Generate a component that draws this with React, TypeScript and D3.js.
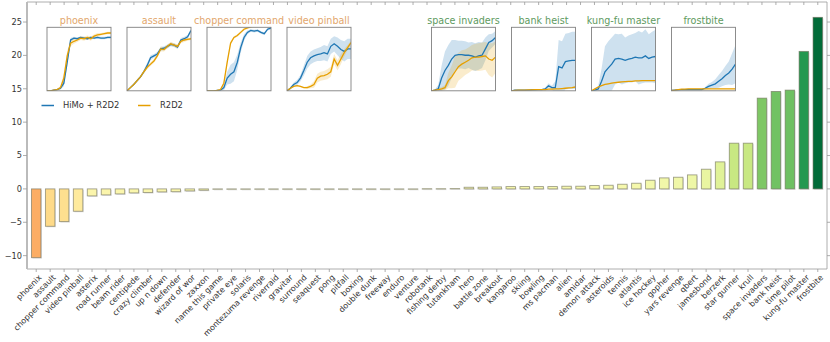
import React from 'react';
import * as d3 from 'd3';

// games sorted by score change (HiMo + R2D2 vs R2D2)
const games = [
  'phoenix', 'assault', 'chopper command', 'video pinball', 'asterix', 'road runner', 'beam rider',
  'centipede', 'crazy climber', 'up n down', 'defender', 'wizard of wor', 'zaxxon', 'name this game',
  'private eye', 'solaris', 'montezuma revenge', 'riverraid', 'gravitar', 'surround', 'seaquest',
  'pong', 'pitfall', 'boxing', 'double dunk', 'freeway', 'enduro', 'venture', 'robotank',
  'fishing derby', 'tutankham', 'hero', 'battle zone', 'breakout', 'kangaroo', 'skiing', 'bowling',
  'ms pacman', 'alien', 'amidar', 'demon attack', 'asteroids', 'tennis', 'atlantis', 'ice hockey',
  'gopher', 'yars revenge', 'qbert', 'jamesbond', 'berzerk', 'star gunner', 'krull',
  'space invaders', 'bank heist', 'time pilot', 'kung-fu master', 'frostbite',
];
const gains = [
  -10.3, -5.6, -4.9, -3.35, -1.05, -0.9, -0.75,
  -0.6, -0.55, -0.45, -0.42, -0.3, -0.2, -0.06,
  -0.04, 0, 0, 0, 0, 0, 0,
  0, 0, 0, 0, 0, 0, 0, 0.03,
  0.03, 0.05, 0.25, 0.25, 0.3, 0.35, 0.35, 0.35,
  0.35, 0.4, 0.4, 0.5, 0.55, 0.7, 0.85, 1.3,
  1.65, 1.75, 2.1, 2.95, 4.05, 6.85, 6.85,
  13.6, 14.6, 14.8, 20.6, 25.7,
];
const yTicks = [-10, -5, 0, 5, 10, 15, 20, 25];

// learning curves for the insets, normalised to the inset height (0 = bottom, 1 = top)
const phoenixHimo = [0, 0, 0.01, 0.02, 0.04, 0.12, 0.45, 0.8, 0.83, 0.82, 0.84, 0.83, 0.82, 0.84, 0.83, 0.84, 0.83, 0.83, 0.84, 0.84];
const phoenixHimoSd = [0, 0, 0.005, 0.01, 0.02, 0.05, 0.06, 0.03, 0.02, 0.02, 0.02, 0.02, 0.02, 0.02, 0.02, 0.02, 0.02, 0.02, 0.02, 0.02];
const phoenixR2d2 = [0, 0, 0.01, 0.02, 0.05, 0.2, 0.55, 0.75, 0.78, 0.8, 0.83, 0.82, 0.84, 0.82, 0.86, 0.88, 0.89, 0.9, 0.91, 0.91];
const phoenixR2d2Sd = [0, 0, 0.005, 0.01, 0.03, 0.08, 0.08, 0.05, 0.04, 0.03, 0.03, 0.03, 0.03, 0.03, 0.03, 0.03, 0.02, 0.02, 0.02, 0.02];

const assaultHimo = [0, 0.05, 0.1, 0.16, 0.22, 0.3, 0.4, 0.52, 0.55, 0.58, 0.66, 0.67, 0.7, 0.73, 0.72, 0.69, 0.8, 0.82, 0.85, 0.95];
const assaultHimoSd = [0, 0.01, 0.01, 0.02, 0.02, 0.03, 0.04, 0.04, 0.03, 0.03, 0.03, 0.03, 0.03, 0.03, 0.03, 0.03, 0.03, 0.03, 0.03, 0.03];
const assaultR2d2 = [0, 0.05, 0.1, 0.16, 0.22, 0.3, 0.37, 0.42, 0.47, 0.55, 0.66, 0.65, 0.7, 0.74, 0.72, 0.7, 0.78, 0.8, 0.81, 0.82];
const assaultR2d2Sd = [0, 0.01, 0.01, 0.02, 0.02, 0.02, 0.03, 0.03, 0.03, 0.03, 0.04, 0.03, 0.03, 0.03, 0.03, 0.03, 0.03, 0.03, 0.02, 0.02];

const chopperHimo = [0, 0, 0, 0.005, 0.01, 0.05, 0.2, 0.26, 0.3, 0.45, 0.68, 0.84, 0.92, 0.95, 0.94, 0.95, 0.92, 0.9, 0.97, 0.99];
const chopperHimoSd = [0, 0, 0, 0.005, 0.01, 0.04, 0.1, 0.15, 0.15, 0.12, 0.08, 0.05, 0.03, 0.02, 0.02, 0.02, 0.02, 0.02, 0.02, 0.02];
const chopperR2d2 = [0, 0, 0, 0.005, 0.02, 0.12, 0.45, 0.75, 0.84, 0.87, 0.92, 0.97, 0.99, 1.01, 1.02, 1.02, 1.03, 1.03, 1.03, 1.03];
const chopperR2d2Sd = [0, 0, 0, 0.005, 0.01, 0.03, 0.04, 0.03, 0.02, 0.02, 0.02, 0.02, 0.02, 0.02, 0.02, 0.02, 0.02, 0.02, 0.02, 0.02];

const pinballHimo = [0, 0.04, 0.1, 0.13, 0.2, 0.32, 0.45, 0.52, 0.55, 0.57, 0.58, 0.6, 0.58, 0.7, 0.74, 0.7, 0.65, 0.62, 0.66, 0.66];
const pinballHimoSd = [0, 0.02, 0.03, 0.04, 0.05, 0.08, 0.1, 0.1, 0.1, 0.1, 0.11, 0.12, 0.12, 0.12, 0.12, 0.14, 0.15, 0.16, 0.16, 0.16];
const pinballR2d2 = [0, 0.04, 0.07, 0.08, 0.07, 0.05, 0.05, 0.07, 0.1, 0.2, 0.23, 0.24, 0.26, 0.3, 0.5, 0.4, 0.5, 0.6, 0.68, 0.76];
const pinballR2d2Sd = [0, 0.01, 0.01, 0.01, 0.01, 0.01, 0.02, 0.03, 0.05, 0.07, 0.07, 0.07, 0.08, 0.08, 0.08, 0.08, 0.08, 0.06, 0.04, 0.03];

const invadersHimo = [0, 0.01, 0.03, 0.2, 0.32, 0.4, 0.5, 0.56, 0.57, 0.57, 0.56, 0.56, 0.55, 0.53, 0.55, 0.56, 0.66, 0.76, 0.79, 0.84];
const invadersHimoSd = [0, 0.01, 0.06, 0.2, 0.3, 0.32, 0.3, 0.24, 0.22, 0.22, 0.22, 0.2, 0.22, 0.22, 0.22, 0.2, 0.18, 0.13, 0.11, 0.1];
const invadersR2d2 = [0, 0.01, 0.02, 0.03, 0.05, 0.16, 0.22, 0.3, 0.38, 0.42, 0.45, 0.48, 0.52, 0.53, 0.53, 0.54, 0.55, 0.5, 0.48, 0.53];
const invadersR2d2Sd = [0, 0.01, 0.02, 0.03, 0.04, 0.12, 0.18, 0.25, 0.22, 0.22, 0.2, 0.2, 0.2, 0.21, 0.22, 0.22, 0.22, 0.25, 0.27, 0.25];

const heistHimo = [0, 0.01, 0.01, 0.01, 0.01, 0.01, 0.015, 0.015, 0.02, 0.02, 0.03, 0.08, 0.05, 0.05, 0.38, 0.36, 0.46, 0.47, 0.48, 0.48];
const heistHimoSd = [0, 0, 0, 0, 0, 0, 0.005, 0.005, 0.01, 0.01, 0.02, 0.04, 0.03, 0.1, 0.42, 0.42, 0.44, 0.44, 0.45, 0.45];
const heistR2d2 = [0, 0.005, 0.01, 0.01, 0.012, 0.015, 0.015, 0.02, 0.02, 0.02, 0.02, 0.025, 0.025, 0.03, 0.03, 0.035, 0.04, 0.045, 0.05, 0.06];
const heistR2d2Sd = [0, 0.005, 0.005, 0.005, 0.005, 0.005, 0.005, 0.005, 0.005, 0.005, 0.005, 0.005, 0.005, 0.005, 0.005, 0.008, 0.01, 0.01, 0.01, 0.01];

const kungfuHimo = [0, 0.01, 0.03, 0.15, 0.3, 0.36, 0.42, 0.5, 0.51, 0.5, 0.48, 0.5, 0.51, 0.53, 0.52, 0.52, 0.55, 0.51, 0.53, 0.54];
const kungfuHimoSd = [0, 0.01, 0.05, 0.2, 0.4, 0.42, 0.42, 0.4, 0.38, 0.4, 0.36, 0.37, 0.38, 0.38, 0.42, 0.4, 0.42, 0.38, 0.4, 0.42];
const kungfuR2d2 = [0, 0.03, 0.06, 0.08, 0.1, 0.11, 0.12, 0.13, 0.135, 0.14, 0.145, 0.15, 0.15, 0.155, 0.155, 0.16, 0.16, 0.16, 0.16, 0.16];
const kungfuR2d2Sd = [0, 0.005, 0.005, 0.005, 0.005, 0.005, 0.005, 0.005, 0.005, 0.005, 0.005, 0.005, 0.005, 0.005, 0.005, 0.005, 0.005, 0.005, 0.005, 0.005];

const frostbiteHimo = [0.005, 0.01, 0.015, 0.02, 0.02, 0.02, 0.02, 0.02, 0.02, 0.02, 0.04, 0.07, 0.09, 0.11, 0.15, 0.19, 0.24, 0.28, 0.34, 0.42];
const frostbiteHimoSd = [0, 0, 0, 0, 0, 0, 0, 0, 0, 0.005, 0.02, 0.04, 0.05, 0.07, 0.1, 0.12, 0.15, 0.18, 0.25, 0.3];
const frostbiteR2d2 = [0.005, 0.01, 0.02, 0.025, 0.025, 0.03, 0.03, 0.03, 0.03, 0.03, 0.03, 0.03, 0.03, 0.03, 0.03, 0.03, 0.03, 0.03, 0.03, 0.03];
const frostbiteR2d2Sd = [0, 0.005, 0.005, 0.005, 0.005, 0.005, 0.005, 0.005, 0.005, 0.005, 0.005, 0.005, 0.005, 0.005, 0.005, 0.005, 0.005, 0.005, 0.005, 0.005];

const insets = [
  { name: 'phoenix', himo: phoenixHimo, himoSd: phoenixHimoSd, r2d2: phoenixR2d2, r2d2Sd: phoenixR2d2Sd, left: 47 },
  { name: 'assault', himo: assaultHimo, himoSd: assaultHimoSd, r2d2: assaultR2d2, r2d2Sd: assaultR2d2Sd, left: 127 },
  { name: 'chopper command', himo: chopperHimo, himoSd: chopperHimoSd, r2d2: chopperR2d2, r2d2Sd: chopperR2d2Sd, left: 207 },
  { name: 'video pinball', himo: pinballHimo, himoSd: pinballHimoSd, r2d2: pinballR2d2, r2d2Sd: pinballR2d2Sd, left: 287 },
  { name: 'space invaders', himo: invadersHimo, himoSd: invadersHimoSd, r2d2: invadersR2d2, r2d2Sd: invadersR2d2Sd, left: 431.5 },
  { name: 'bank heist', himo: heistHimo, himoSd: heistHimoSd, r2d2: heistR2d2, r2d2Sd: heistR2d2Sd, left: 511.5 },
  { name: 'kung-fu master', himo: kungfuHimo, himoSd: kungfuHimoSd, r2d2: kungfuR2d2, r2d2Sd: kungfuR2d2Sd, left: 591.5 },
  { name: 'frostbite', himo: frostbiteHimo, himoSd: frostbiteHimoSd, r2d2: frostbiteR2d2, r2d2Sd: frostbiteR2d2Sd, left: 671.5 },
];

const BLUE = '#1f77b4';
const ORANGE = '#e69f00';
const FONT = 'DejaVu Sans, sans-serif';

const W = 830;
const H = 342;
const plot = { left: 27, right: 827, top: 2, bottom: 269 };
const inset = { top: 27.3, w: 64, h: 63.5 };

const Inset = ({ d, idx }: { d: typeof insets[number]; idx: number }) => {
  const ix = d3.scaleLinear().domain([0, d.himo.length - 1]).range([0, inset.w]);
  const iy = d3.scaleLinear().domain([0, 1]).range([inset.h, 0]);
  const line = d3.line<number>().x((_, i) => ix(i)).y((v) => iy(v));
  const band = (mean: number[], sd: number[]) =>
    d3.area<number>()
      .x((_, i) => ix(i))
      .y0((v, i) => iy(v - sd[i]))
      .y1((v, i) => iy(v + sd[i]))(mean) || '';
  const positive = gains[games.indexOf(d.name)] > 0;
  const clipId = `clip-${idx}`;
  return (
    <g transform={`translate(${d.left},${inset.top})`}>
      <defs>
        <clipPath id={clipId}>
          <rect x={0} y={0} width={inset.w} height={inset.h} />
        </clipPath>
      </defs>
      <rect x={0} y={0} width={inset.w} height={inset.h} fill="#fff" />
      <g clipPath={`url(#${clipId})`}>
        <path d={band(d.himo, d.himoSd)} fill={BLUE} fillOpacity={0.22} />
        <path d={band(d.r2d2, d.r2d2Sd)} fill={ORANGE} fillOpacity={0.2} />
        <path d={line(d.himo) || ''} fill="none" stroke={BLUE} strokeWidth={1.3} />
        <path d={line(d.r2d2) || ''} fill="none" stroke={ORANGE} strokeWidth={1.3} />
      </g>
      <rect x={0} y={0} width={inset.w} height={inset.h} fill="none" stroke="#808080" strokeWidth={0.9} />
      <text x={inset.w / 2} y={-3} textAnchor="middle" fontSize={9.6} fontFamily={FONT}
        fill={positive ? '#5e9a5e' : '#e2a66c'}>{d.name}</text>
    </g>
  );
};

const App = () => {
  const x = d3.scaleLinear().domain([-0.66, games.length - 1 + 0.66]).range([plot.left, plot.right]);
  const y = d3.scaleLinear().domain([-12, 28]).range([plot.bottom, plot.top]);
  const color = d3.scaleSequential(d3.interpolateRdYlGn).domain([-26, 26]);
  const barW = x(0.68) - x(0);

  return (
    <svg width={W} height={H} style={{ position: 'absolute', left: 0, top: 0 }} fontFamily={FONT}>
      <rect width={W} height={H} fill="#fff" />

      {/* bars */}
      {games.map((g, i) => {
        const v = gains[i];
        const y0 = Math.min(y(v), y(0));
        const h = Math.max(Math.abs(y(v) - y(0)), 0.4);
        return (
          <g key={g}>
            <rect x={x(i) - barW / 2 + 1} y={y0 + 1} width={barW} height={h} fill="#aaa" fillOpacity={0.35} />
            <rect x={x(i) - barW / 2} y={y0} width={barW} height={h}
              fill={color(v)} stroke="#6e6e5a" strokeOpacity={0.65} strokeWidth={0.9} />
          </g>
        );
      })}

      {/* frame */}
      <line x1={plot.left} x2={plot.right} y1={plot.top} y2={plot.top} stroke="#999" strokeWidth={0.8} />
      <line x1={plot.left} x2={plot.right} y1={plot.bottom} y2={plot.bottom} stroke="#999" strokeWidth={0.8} />
      <line x1={plot.right} x2={plot.right} y1={plot.top} y2={plot.bottom} stroke="#999" strokeWidth={0.8} />
      <line x1={plot.left} x2={plot.left} y1={plot.top} y2={plot.bottom} stroke="#bbb" strokeWidth={2} />

      {/* x ticks and labels */}
      {games.map((g, i) => (
        <g key={`xt-${g}`}>
          <line x1={x(i)} x2={x(i)} y1={plot.top} y2={plot.top + 3} stroke="#999" strokeWidth={0.8} />
          <line x1={x(i)} x2={x(i)} y1={plot.bottom} y2={plot.bottom + 3} stroke="#999" strokeWidth={0.8} />
          <text transform={`translate(${x(i) + 2},${plot.bottom + 5}) rotate(-45)`} textAnchor="end"
            dominantBaseline="hanging" fontSize={8} fill="#333">{g}</text>
        </g>
      ))}

      {/* y ticks */}
      {yTicks.map((t) => (
        <g key={`yt-${t}`}>
          <line x1={plot.left - 4} x2={plot.left} y1={y(t)} y2={y(t)} stroke="#999" strokeWidth={0.8} />
          <line x1={plot.right} x2={plot.right + 3} y1={y(t)} y2={y(t)} stroke="#999" strokeWidth={0.8} />
          <text x={plot.left - 5} y={y(t)} dy="0.35em" textAnchor="end" fontSize={8.2} fill="#333">
            {t < 0 ? `\u2212${Math.abs(t)}` : t}
          </text>
        </g>
      ))}

      {/* insets */}
      {insets.map((d, i) => <Inset key={d.name} d={d} idx={i} />)}

      {/* legend */}
      <line x1={41.5} x2={54} y1={105.5} y2={105.5} stroke={BLUE} strokeWidth={1.5} />
      <text x={63} y={105.5} dy="0.35em" fontSize={8.4} fill="#333">HiMo + R2D2</text>
      <line x1={138} x2={150.5} y1={105.5} y2={105.5} stroke={ORANGE} strokeWidth={1.5} />
      <text x={160} y={105.5} dy="0.35em" fontSize={8.4} fill="#333">R2D2</text>
    </svg>
  );
};

export default App;
